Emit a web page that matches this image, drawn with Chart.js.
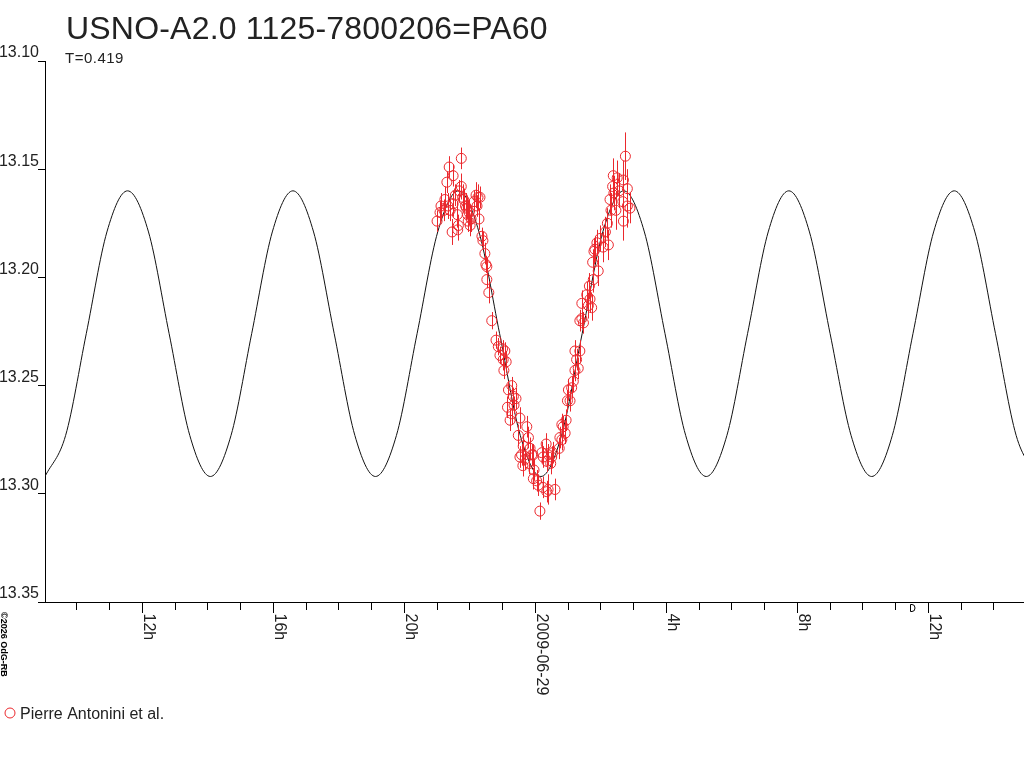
<!DOCTYPE html>
<html>
<head>
<meta charset="utf-8">
<script src="https://cdn.jsdelivr.net/npm/chart.js@4.4.1/dist/chart.umd.min.js"></script>
<style>
  html, body { margin: 0; padding: 0; background: #fff; }
  #wrap { position: relative; width: 1024px; height: 768px; }
</style>
</head>
<body>
<div id="wrap"><canvas id="lightCurve" width="1024" height="768"></canvas></div>
<script>
// time axis: hours relative to 2009-06-29 00:00
const tickHours = [-12, -8, -4, 0, 4, 8, 12];
const tickLabels = ['12h', '16h', '20h', '2009-06-29', '4h', '8h', '12h'];

// fitted light curve
const modelTime = [-14.97, -14.34, -13.71, -13.08, -12.45, -11.81, -11.18, -10.55,
  -9.92, -9.29, -8.66, -8.03, -7.40, -6.77, -6.14, -5.51,
  -4.88, -4.24, -3.61, -2.98, -2.35, -1.72, -1.09, -0.46,
  0.17, 0.80, 1.43, 2.06, 2.70, 3.33, 3.96, 4.59,
  5.22, 5.85, 6.48, 7.11, 7.74, 8.37, 9.00, 9.64,
  10.27, 10.90, 11.53, 12.16, 12.79, 13.42, 14.05, 14.68, 15.31];
const modelMag = [13.292, 13.273, 13.226, 13.179, 13.160, 13.179, 13.226, 13.273,
  13.292, 13.273, 13.226, 13.179, 13.160, 13.179, 13.226, 13.273,
  13.292, 13.273, 13.226, 13.179, 13.160, 13.179, 13.226, 13.273,
  13.292, 13.273, 13.226, 13.179, 13.160, 13.179, 13.226, 13.273,
  13.292, 13.273, 13.226, 13.179, 13.160, 13.179, 13.226, 13.273,
  13.292, 13.273, 13.226, 13.179, 13.160, 13.179, 13.226, 13.273, 13.292];

// observations
const obsTime = [-3.00, -2.91, -2.88, -2.79, -2.76, -2.70, -2.67, -2.63, -2.60, -2.54,
  -2.51, -2.51, -2.44, -2.38, -2.35, -2.32, -2.26, -2.26, -2.22, -2.19,
  -2.13, -2.10, -2.07, -2.05, -2.02, -1.99, -1.96, -1.87, -1.81, -1.78,
  -1.75, -1.72, -1.69, -1.63, -1.60, -1.54, -1.51, -1.48, -1.48, -1.42,
  -1.33, -2.37, -1.20, -1.13, -1.08, -1.00, -0.98, -0.96, -0.93, -0.89,
  -0.85, -0.82, -0.77, -0.72, -0.72, -0.67, -0.65, -0.59, -0.52, -0.47,
  -0.47, -0.42, -0.38, -0.37, -0.31, -0.26, -0.21, -0.18, -0.16, -0.11,
  -0.07, -0.06, -0.04, 0.04, 0.09, 0.14, 0.20, 0.23, 0.24, 0.33,
  0.35, 0.35, 0.39, 0.40, 0.47, 0.50, 0.53, 0.60, 0.73, 0.75,
  0.81, 0.81, 0.85, 0.91, 0.94, 0.98, 1.01, 1.06, 1.11, 1.16,
  1.21, 1.21, 1.26, 1.31, 1.36, 1.36, 1.42, 1.42, 1.47, 1.57,
  1.62, 1.65, 1.67, 1.72, 1.75, 1.77, 1.79, 1.82, 1.88, 1.92,
  1.98, 2.07, 2.14, 2.20, 2.23, 2.28, 2.31, 2.36, 2.38, 2.40,
  2.46, 2.50, 2.56, 2.67, 2.69, 2.69, 2.75, 2.81, 2.81, 2.89];
const obsMag = [13.174, 13.170, 13.167, 13.169, 13.164, 13.156, 13.167, 13.149, 13.169, 13.179,
  13.153, 13.166, 13.162, 13.171, 13.176, 13.160, 13.145, 13.158, 13.163, 13.164,
  13.167, 13.168, 13.171, 13.174, 13.170, 13.176, 13.173, 13.165, 13.162, 13.167,
  13.163, 13.173, 13.163, 13.181, 13.183, 13.189, 13.194, 13.195, 13.201, 13.207,
  13.220, 13.178, 13.229, 13.232, 13.236, 13.233, 13.238, 13.243, 13.234, 13.239,
  13.260, 13.252, 13.266, 13.250, 13.263, 13.255, 13.259, 13.256, 13.273, 13.265,
  13.283, 13.282, 13.287, 13.278, 13.284, 13.269, 13.274, 13.286, 13.279, 13.282,
  13.282, 13.293, 13.289, 13.294, 13.296, 13.308, 13.281, 13.297, 13.283, 13.277,
  13.299, 13.285, 13.298, 13.282, 13.286, 13.283, 13.281, 13.298, 13.279, 13.274,
  13.275, 13.268, 13.269, 13.272, 13.266, 13.257, 13.252, 13.257, 13.251, 13.248,
  13.243, 13.234, 13.238, 13.242, 13.234, 13.220, 13.219, 13.212, 13.221, 13.208,
  13.213, 13.204, 13.210, 13.214, 13.193, 13.201, 13.188, 13.187, 13.184, 13.197,
  13.182, 13.186, 13.179, 13.175, 13.185, 13.164, 13.169, 13.158, 13.153, 13.161,
  13.169, 13.154, 13.160, 13.165, 13.155, 13.174, 13.144, 13.159, 13.167, 13.168];
const obsErr = [0.005, 0.005, 0.006, 0.005, 0.006, 0.005, 0.006, 0.005, 0.005, 0.006,
  0.005, 0.006, 0.005, 0.006, 0.005, 0.005, 0.005, 0.006, 0.006, 0.005,
  0.006, 0.005, 0.006, 0.005, 0.006, 0.005, 0.006, 0.005, 0.006, 0.005,
  0.006, 0.005, 0.005, 0.004, 0.004, 0.005, 0.004, 0.004, 0.004, 0.005,
  0.004, 0.005, 0.004, 0.004, 0.004, 0.004, 0.005, 0.004, 0.004, 0.005,
  0.005, 0.004, 0.005, 0.004, 0.005, 0.004, 0.004, 0.005, 0.005, 0.005,
  0.005, 0.005, 0.005, 0.005, 0.005, 0.005, 0.005, 0.005, 0.005, 0.005,
  0.005, 0.005, 0.005, 0.005, 0.005, 0.004, 0.005, 0.005, 0.005, 0.005,
  0.005, 0.005, 0.007, 0.005, 0.005, 0.005, 0.005, 0.005, 0.005, 0.005,
  0.005, 0.005, 0.005, 0.005, 0.005, 0.005, 0.005, 0.005, 0.005, 0.005,
  0.005, 0.005, 0.005, 0.005, 0.005, 0.005, 0.005, 0.006, 0.005, 0.006,
  0.006, 0.006, 0.006, 0.006, 0.006, 0.006, 0.006, 0.006, 0.006, 0.007,
  0.006, 0.007, 0.007, 0.007, 0.007, 0.007, 0.008, 0.007, 0.008, 0.008,
  0.009, 0.008, 0.008, 0.009, 0.009, 0.009, 0.011, 0.009, 0.010, 0.007];

const seriesName = 'Pierre Antonini et al.';
const titleText = 'USNO-A2.0 1125-7800206=PA60';
const periodText = 'T=0.419';
const creditText = '\u00A92026 OdG-RB';
const markerHour = 11.5;

const red = 'rgb(235,40,45)';
const ink = '#222';
const fontFam = "'Liberation Sans', Arial, sans-serif";
Chart.defaults.font.family = fontFam;

// texts, rotated time labels, error bars, legend
const decor = {
  id: 'decor',
  afterDatasetsDraw(chart) {
    const { ctx, chartArea } = chart;
    const xs = chart.scales.x, ys = chart.scales.y;
    ctx.save();
    ctx.beginPath();
    ctx.rect(chartArea.left, chartArea.top, chartArea.right - chartArea.left, chartArea.bottom - chartArea.top);
    ctx.clip();
    ctx.strokeStyle = red;
    ctx.lineWidth = 1;
    ctx.beginPath();
    obsTime.forEach((t, i) => {
      const x = Math.round(xs.getPixelForValue(t)) + 0.5;
      ctx.moveTo(x, ys.getPixelForValue(obsMag[i] - obsErr[i]));
      ctx.lineTo(x, ys.getPixelForValue(obsMag[i] + obsErr[i]));
    });
    ctx.stroke();
    ctx.restore();
  },
  afterDraw(chart) {
    const { ctx } = chart;
    const xs = chart.scales.x;
    const base = xs.bottom - xs.height; // axis line
    ctx.save();
    ctx.fillStyle = ink;
    ctx.textBaseline = 'alphabetic';
    ctx.textAlign = 'left';

    ctx.font = '32px ' + fontFam;
    ctx.letterSpacing = '0.2px';
    ctx.fillText(titleText, 66, 39);
    ctx.font = '15px ' + fontFam;
    ctx.letterSpacing = '0.5px';
    ctx.fillText(periodText, 65, 63);
    ctx.letterSpacing = '0px';

    // major ticks a bit longer + rotated labels
    ctx.strokeStyle = '#000';
    ctx.lineWidth = 1;
    ctx.font = '16px ' + fontFam;
    tickHours.forEach((h, i) => {
      const px = Math.round(xs.getPixelForValue(h)) + 0.5;
      ctx.beginPath();
      ctx.moveTo(px, base + 8);
      ctx.lineTo(px, base + 11);
      ctx.stroke();
      ctx.save();
      ctx.translate(px + 1.5, base + 11.5);
      ctx.rotate(Math.PI / 2);
      ctx.fillText(tickLabels[i], 0, 0);
      ctx.restore();
    });

    // small marker on the time axis
    const mx = Math.round(xs.getPixelForValue(markerHour)) - 1.5;
    ctx.beginPath();
    ctx.moveTo(mx, base + 2.5);
    ctx.lineTo(mx, base + 9.5);
    ctx.lineTo(mx + 1.5, base + 9.5);
    ctx.ellipse(mx + 1.5, base + 6, 3, 3.5, 0, Math.PI / 2, -Math.PI / 2, true);
    ctx.lineTo(mx, base + 2.5);
    ctx.stroke();

    // credit
    ctx.save();
    ctx.font = 'bold 9px ' + fontFam;
    ctx.fillStyle = '#000';
    ctx.translate(1, 612);
    ctx.rotate(Math.PI / 2);
    ctx.fillText(creditText, 0, 0);
    ctx.restore();

    // legend
    ctx.strokeStyle = red;
    ctx.beginPath();
    ctx.arc(10, 713, 5, 0, Math.PI * 2);
    ctx.stroke();
    ctx.font = '16px ' + fontFam;
    ctx.fillStyle = ink;
    ctx.fillText(chart.data.datasets[0].label, 20, 719);
    ctx.restore();
  }
};

new Chart(document.getElementById('lightCurve'), {
  type: 'scatter',
  data: {
    datasets: [
      {
        label: seriesName,
        data: obsTime.map((t, i) => ({ x: t, y: obsMag[i] })),
        pointStyle: 'circle',
        pointRadius: 5,
        pointBorderWidth: 1,
        pointBorderColor: red,
        pointBackgroundColor: 'rgba(0,0,0,0)',
        showLine: false
      },
      {
        label: 'fit',
        data: modelTime.map((t, i) => ({ x: t, y: modelMag[i] })),
        showLine: true,
        borderColor: '#111',
        borderWidth: 1,
        pointRadius: 0,
        cubicInterpolationMode: 'monotone'
      }
    ]
  },
  options: {
    responsive: false,
    animation: false,
    devicePixelRatio: 1,
    layout: { autoPadding: false, padding: { top: 61, left: 0, right: 0, bottom: 136 } },
    plugins: {
      legend: { display: false },
      tooltip: { enabled: false },
      title: { display: false }
    },
    scales: {
      x: {
        type: 'linear',
        min: -14.97,
        max: 14.92,
        border: { display: true, color: '#000', width: 1 },
        grid: { drawOnChartArea: false, drawTicks: true, tickLength: 8, tickColor: '#000' },
        ticks: { display: false, stepSize: 1, includeBounds: false },
        afterFit: s => { s.height = 30; }
      },
      y: {
        type: 'linear',
        reverse: true,
        min: 13.10,
        max: 13.35,
        border: { display: true, color: '#000', width: 1 },
        grid: { drawOnChartArea: false, drawTicks: true, tickLength: 7, tickColor: '#000' },
        ticks: {
          stepSize: 0.05,
          color: ink,
          font: { size: 16 },
          padding: -1,
          labelOffset: -8,
          callback: v => Number(v).toFixed(2)
        },
        afterFit: s => { s.width = 45; }
      }
    }
  },
  plugins: [decor]
});
</script>
</body>
</html>
